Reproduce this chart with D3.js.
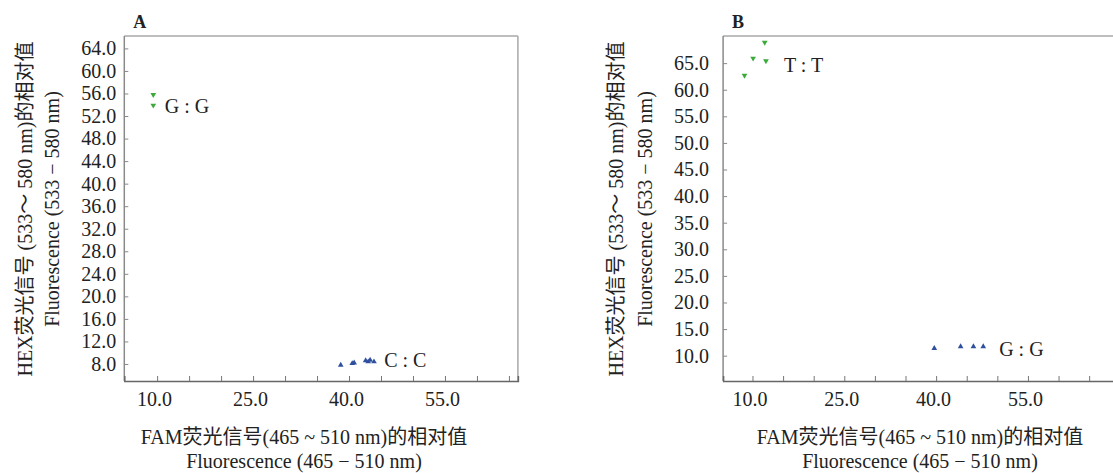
<!DOCTYPE html>
<html>
<head>
<meta charset="utf-8">
<script src="https://cdn.jsdelivr.net/npm/d3@7"></script>
<style>
  html, body { margin: 0; padding: 0; background: #fff; }
  svg text { font-family: "Liberation Serif", "Noto Sans CJK SC", serif; fill: #222; }
</style>
</head>
<body>
<svg id="chart" width="1113" height="473"></svg>
<script>
// ---------- data ----------
// Panel A
const aGG_x = [9.4, 9.4];
const aGG_y = [55.8, 53.9];
const aCC_x = [38.7, 40.5, 40.8, 42.6, 43.0, 43.3, 43.9];
const aCC_y = [7.8, 8.1, 8.2, 8.6, 8.4, 8.7, 8.4];
// Panel B
const bTT_x = [12.0, 10.1, 12.2, 8.7];
const bTT_y = [68.9, 65.9, 65.4, 62.7];
const bGG_x = [39.7, 44.0, 46.1, 47.7];
const bGG_y = [11.4, 11.7, 11.7, 11.7];

// ticks
const xTicks = [10, 15, 20, 25, 30, 35, 40, 45, 50, 55, 60, 65];
const xTickLabels = [10, 25, 40, 55];
const yTicksA = [8, 12, 16, 20, 24, 28, 32, 36, 40, 44, 48, 52, 56, 60, 64];
const yTicksB = [10, 15, 20, 25, 30, 35, 40, 45, 50, 55, 60, 65];

// axis domains
const xDomainA = [4.87, 66.4];
const yDomainA = [4.98, 66.2];
const xDomainB = [5.2, 69.5];
const yDomainB = [5.24, 70.1];

// cluster labels (anchor in data units)
const labelsA = [{ text: "G : G", x: 11.2, y: 52.5 }, { text: "C : C", x: 45.5, y: 7.47 }];
const labelsB = [{ text: "T : T", x: 15.15, y: 63.27 }, { text: "G : G", x: 50.3, y: 9.94 }];

// texts
const xTitle1 = "FAM荧光信号(465 ~ 510 nm)的相对值";
const xTitle2 = "Fluorescence (465 − 510 nm)";
const yTitle1 = "HEX荧光信号 (533～ 580 nm)的相对值";
const yTitle2 = "Fluorescence (533 − 580 nm)";

const GREEN = "#3aaa3a";
const BLUE = "#2f4f9f";

const svg = d3.select("#chart");

function panel(opts) {
  const { left, top, width, height, xDomain, yDomain, yTicks, series, labels, letter,
          yPad, yTitleX1, yTitleX2, xTitleCx, rightBorder } = opts;
  const x = d3.scaleLinear().domain(xDomain).range([left, left + width]);
  const y = d3.scaleLinear().domain(yDomain).range([top + height, top]);
  const g = svg.append("g");

  // frame: top & right light grey
  g.append("line").attr("x1", left).attr("x2", left + width).attr("y1", top).attr("y2", top)
    .attr("stroke", "#a8a8a8").attr("stroke-width", 1.5);
  if (rightBorder) {
    g.append("line").attr("x1", left + width).attr("x2", left + width).attr("y1", top).attr("y2", top + height)
      .attr("stroke", "#a8a8a8").attr("stroke-width", 1.5);
  }
  g.append("line").attr("x1", left).attr("x2", left).attr("y1", top).attr("y2", top + height)
    .attr("stroke", "#8a8a8a").attr("stroke-width", 1.5);

  // y axis
  const ya = g.append("g").attr("transform", `translate(${left},0)`)
    .call(d3.axisLeft(y).tickValues(yTicks).tickFormat(d3.format(".1f")).tickSize(-4).tickPadding(yPad));
  ya.select(".domain").remove();
  ya.selectAll(".tick line").attr("stroke", "#888");
  ya.selectAll(".tick text").style("font-size", "20px").attr("fill", "#222");

  // x axis
  const xa = g.append("g").attr("transform", `translate(0,${top + height})`)
    .call(d3.axisBottom(x).tickValues(xTicks)
      .tickFormat(d => xTickLabels.includes(d) ? d3.format(".1f")(d) : "")
      .tickSize(-5).tickPadding(11));
  xa.select(".domain").attr("stroke", "#666").attr("stroke-width", 1.5);
  xa.selectAll(".tick line").attr("stroke", "#777");
  xa.selectAll(".tick text").style("font-size", "20px").attr("fill", "#222").attr("dx", -3);

  // points
  series.forEach(s => {
    const sym = d3.symbol().type(d3.symbolTriangle).size(14);
    g.append("g").selectAll("path").data(s.xs.map((v, i) => [v, s.ys[i]])).join("path")
      .attr("d", sym)
      .attr("transform", d => `translate(${x(d[0])},${y(d[1])}) rotate(${s.down ? 180 : 0})`)
      .attr("fill", s.color);
  });

  // cluster labels
  g.selectAll("text.lbl").data(labels).join("text").attr("class", "lbl")
    .attr("x", d => x(d.x)).attr("y", d => y(d.y))
    .style("font-size", "20px").text(d => d.text);

  // panel letter
  g.append("text").attr("x", left + 9).attr("y", 28.3)
    .style("font-size", "18px").style("font-weight", "bold").text(letter);

  // x titles
  g.append("text").attr("x", xTitleCx).attr("y", 444).attr("text-anchor", "middle")
    .style("font-size", "20px").text(xTitle1);
  g.append("text").attr("x", xTitleCx).attr("y", 468).attr("text-anchor", "middle")
    .style("font-size", "20px").text(xTitle2);

  // y titles
  const cy = 209;
  g.append("text").attr("transform", `translate(${yTitleX1},${cy}) rotate(-90)`)
    .attr("text-anchor", "middle").attr("dominant-baseline", "central")
    .style("font-size", "20px").text(yTitle1);
  g.append("text").attr("transform", `translate(${yTitleX2},${cy}) rotate(-90)`)
    .attr("text-anchor", "middle").attr("dominant-baseline", "central")
    .style("font-size", "20px").text(yTitle2);
}

panel({
  left: 124.3, top: 36, width: 393.6, height: 345,
  xDomain: xDomainA, yDomain: yDomainA, yTicks: yTicksA,
  series: [
    { xs: aGG_x, ys: aGG_y, color: GREEN, down: true },
    { xs: aCC_x, ys: aCC_y, color: BLUE, down: false }
  ],
  labels: labelsA, letter: "A", yPad: 8, yTitleX1: 25, yTitleX2: 52, xTitleCx: 304, rightBorder: true
});

panel({
  left: 723.1, top: 36, width: 393.6, height: 345,
  xDomain: xDomainB, yDomain: yDomainB, yTicks: yTicksB,
  series: [
    { xs: bTT_x, ys: bTT_y, color: GREEN, down: true },
    { xs: bGG_x, ys: bGG_y, color: BLUE, down: false }
  ],
  labels: labelsB, letter: "B", yPad: 14, yTitleX1: 616, yTitleX2: 645, xTitleCx: 920, rightBorder: true
});
</script>
</body>
</html>
